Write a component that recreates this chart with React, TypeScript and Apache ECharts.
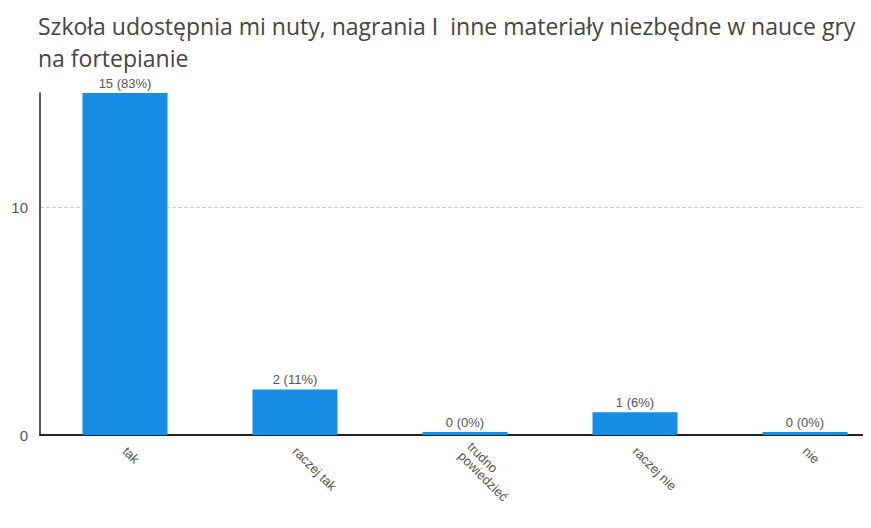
import React, { useEffect, useRef } from "react";
import * as echarts from "echarts";

const title = "Szkoła udostępnia mi nuty, nagrania I  inne materiały niezbędne w nauce gry\nna fortepianie";
const categories = ["tak", "raczej tak", "trudno\npowiedzieć", "raczej nie", "nie"];
const values = [15, 2, 0, 1, 0];
const percents = ["83%", "11%", "0%", "6%", "0%"];
const yTicks = [0, 10];

export default function App() {
  const ref = useRef<HTMLDivElement>(null);
  useEffect(() => {
    if (!ref.current) return;
    const chart = echarts.init(ref.current, null, { renderer: "svg" });
    chart.setOption({
      animation: false,
      backgroundColor: "#ffffff",
      title: {
        text: title,
        left: 33,
        top: 5,
        textStyle: {
          fontFamily: "Open Sans",
          fontSize: 23,
          fontWeight: "normal",
          color: "#444",
          lineHeight: 32,
        },
      },
      grid: {
        left: 40,
        top: 93,
        width: 850,
        height: 342,
        containLabel: false,
        outerBoundsMode: "none",
      },
      xAxis: {
        type: "category",
        data: categories,
        axisLine: { lineStyle: { color: "#222", width: 2 } },
        axisTick: { show: false },
        axisLabel: {
          rotate: -45,
          interval: 0,
          color: "#555",
          fontFamily: "Liberation Sans",
          fontSize: 13,
          margin: 14,
        },
      },
      yAxis: {
        type: "value",
        min: 0,
        max: 15,
        interval: 10,
        axisLine: { show: true, lineStyle: { color: "#222", width: 1.5 } },
        axisTick: { show: false },
        axisLabel: {
          color: "#555",
          fontFamily: "Liberation Sans",
          fontSize: 15,
          margin: 12,
          formatter: (v: number) => (yTicks.includes(v) ? String(v) : ""),
        },
        splitLine: {
          showMaxLine: false,
          lineStyle: { color: "#ccc", type: "dashed" },
        },
      },
      series: [
        {
          type: "bar",
          data: values,
          barWidth: "50%",
          barMinHeight: 3,
          itemStyle: { color: "#178ee6" },
          label: {
            show: true,
            position: "top",
            distance: 3,
            color: "#555",
            fontFamily: "Liberation Sans",
            fontSize: 13,
            formatter: (p: any) => `${values[p.dataIndex]} (${percents[p.dataIndex]})`,
          },
        },
      ],
    });
    return () => chart.dispose();
  }, []);
  return <div ref={ref} style={{ width: 871, height: 528, margin: -8 }} />;
}
